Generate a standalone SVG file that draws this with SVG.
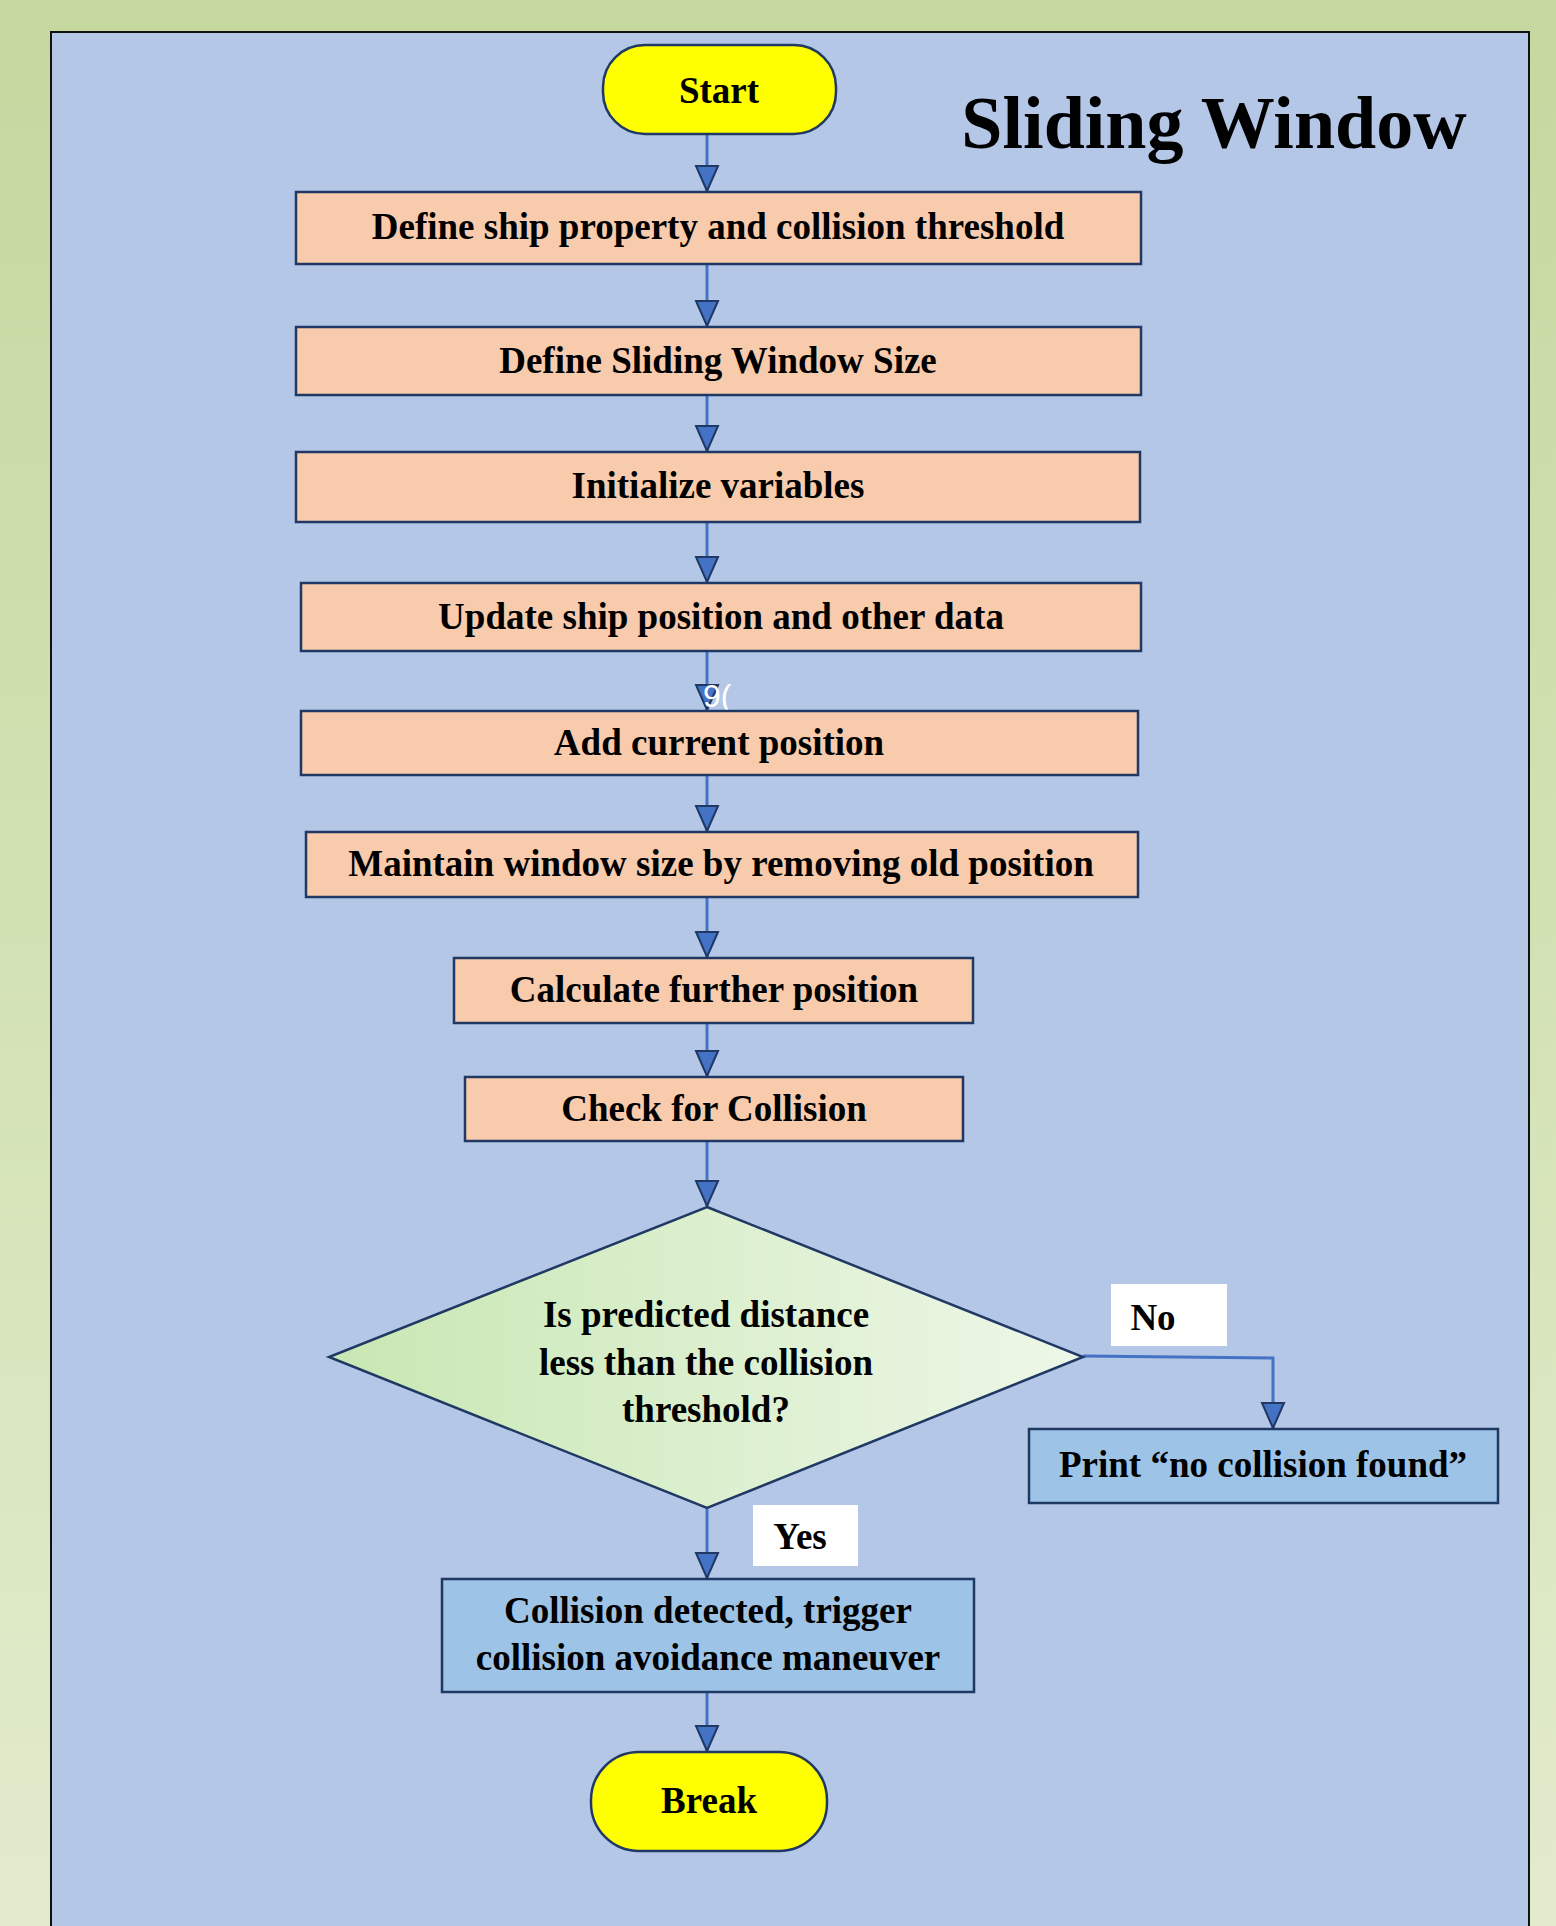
<svg xmlns="http://www.w3.org/2000/svg" width="1556" height="1926" viewBox="0 0 1556 1926">
  <defs>
    <linearGradient id="bgGrad" x1="0" y1="0" x2="0" y2="1">
      <stop offset="0" stop-color="#c4d89f"/>
      <stop offset="0.5" stop-color="#d3e2b4"/>
      <stop offset="1" stop-color="#e2ebcd"/>
    </linearGradient>
    <linearGradient id="diamondGrad" x1="0" y1="0" x2="1" y2="0">
      <stop offset="0" stop-color="#c8e7b3"/>
      <stop offset="1" stop-color="#eef7e8"/>
    </linearGradient>
    <marker id="arrow" viewBox="0 0 28 26" refX="26" refY="13" markerWidth="28" markerHeight="26" markerUnits="userSpaceOnUse" orient="auto">
      <path d="M1,2 L26,13 L1,24 Z" fill="#4472c4" stroke="#1f3864" stroke-width="2" stroke-linejoin="miter"/>
    </marker>
    <style>
      .lbl { font-family: "Liberation Serif", "Times New Roman", serif; font-weight: bold; font-size: 37px; fill: #000; text-anchor: middle; }
      .proc { fill: #f8cbad; stroke: #1f3864; stroke-width: 2.5; }
      .out { fill: #9dc3e6; stroke: #1f3864; stroke-width: 2.5; }
      .term { fill: #ffff00; stroke: #1f3864; stroke-width: 2.5; }
      .tag { fill: #ffffff; }
      .link { fill: none; stroke: #4472c4; stroke-width: 3; marker-end: url(#arrow); }
    </style>
  </defs>

  <!-- page background and panel -->
  <rect x="0" y="0" width="1556" height="1926" fill="url(#bgGrad)"/>
  <rect x="51" y="32" width="1478" height="1910" fill="#b4c7e7" stroke="#111" stroke-width="2"/>

  <text x="1214" y="148" font-family="Liberation Serif, Times New Roman, serif" font-weight="bold" font-size="74" text-anchor="middle" fill="#000">Sliding Window</text>

  <!-- connectors -->
  <g id="connectors">
    <line class="link" x1="707" y1="134" x2="707" y2="191"/>
    <line class="link" x1="707" y1="264" x2="707" y2="326"/>
    <line class="link" x1="707" y1="395" x2="707" y2="451"/>
    <line class="link" x1="707" y1="522" x2="707" y2="582"/>
    <line class="link" x1="707" y1="651" x2="707" y2="710"/>
    <line class="link" x1="707" y1="775" x2="707" y2="831"/>
    <line class="link" x1="707" y1="897" x2="707" y2="957"/>
    <line class="link" x1="707" y1="1023" x2="707" y2="1076"/>
    <line class="link" x1="707" y1="1141" x2="707" y2="1206"/>
    <polyline class="link" stroke-width="4" points="1083,1356 1273,1358 1273,1428"/>
    <line class="link" x1="707" y1="1508" x2="707" y2="1578"/>
    <line class="link" x1="707" y1="1692" x2="707" y2="1751"/>
    <text x="703" y="707" font-family="Liberation Sans, Arial, sans-serif" font-size="32" fill="#ffffff">9(</text>
  </g>

  <g id="start">
    <rect class="term" x="603" y="45" width="233" height="89" rx="42" ry="42"/>
    <text class="lbl" x="719" y="103">Start</text>
  </g>

  <g id="define-ship">
    <rect class="proc" x="296" y="192" width="845" height="72"/>
    <text class="lbl" x="718" y="239">Define ship property and collision threshold</text>
  </g>

  <g id="define-window">
    <rect class="proc" x="296" y="327" width="845" height="68"/>
    <text class="lbl" x="718" y="373">Define Sliding Window Size</text>
  </g>

  <g id="init-vars">
    <rect class="proc" x="296" y="452" width="844" height="70"/>
    <text class="lbl" x="718" y="498">Initialize variables</text>
  </g>

  <g id="update-position">
    <rect class="proc" x="301" y="583" width="840" height="68"/>
    <text class="lbl" x="721" y="629">Update ship position and other data</text>
  </g>

  <g id="add-position">
    <rect class="proc" x="301" y="711" width="837" height="64"/>
    <text class="lbl" x="719" y="755">Add current position</text>
  </g>

  <g id="maintain-window">
    <rect class="proc" x="306" y="832" width="832" height="65"/>
    <text class="lbl" x="721" y="876">Maintain window size by removing old position</text>
  </g>

  <g id="calc-position">
    <rect class="proc" x="454" y="958" width="519" height="65"/>
    <text class="lbl" x="714" y="1002">Calculate further position</text>
  </g>

  <g id="check-collision">
    <rect class="proc" x="465" y="1077" width="498" height="64"/>
    <text class="lbl" x="714" y="1121">Check for Collision</text>
  </g>

  <g id="decision">
    <polygon points="707,1207 1083,1357 707,1508 329,1357" fill="url(#diamondGrad)" stroke="#1f3864" stroke-width="2.5"/>
    <text class="lbl" x="706" y="1327">Is predicted distance</text>
    <text class="lbl" x="706" y="1375">less than the collision</text>
    <text class="lbl" x="706" y="1422">threshold?</text>
  </g>

  <g id="label-no">
    <rect class="tag" x="1111" y="1284" width="116" height="62"/>
    <text class="lbl" x="1153" y="1330">No</text>
  </g>

  <g id="label-yes">
    <rect class="tag" x="753" y="1505" width="105" height="61"/>
    <text class="lbl" x="800" y="1549">Yes</text>
  </g>

  <g id="no-collision">
    <rect class="out" x="1029" y="1429" width="469" height="74"/>
    <text class="lbl" x="1263" y="1477">Print “no collision found”</text>
  </g>

  <g id="collision-detected">
    <rect class="out" x="442" y="1579" width="532" height="113"/>
    <text class="lbl" x="708" y="1623">Collision detected, trigger</text>
    <text class="lbl" x="708" y="1670">collision avoidance maneuver</text>
  </g>

  <g id="break">
    <rect class="term" x="591" y="1752" width="236" height="99" rx="48" ry="48"/>
    <text class="lbl" x="709" y="1813">Break</text>
  </g>
</svg>
